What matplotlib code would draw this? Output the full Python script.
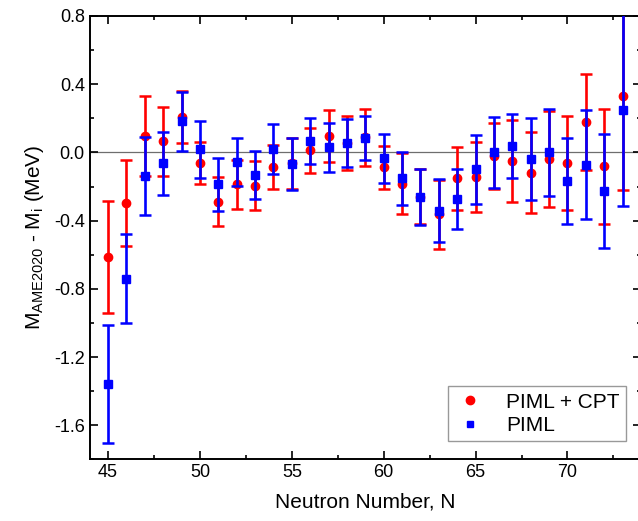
import matplotlib
matplotlib.use("Agg")
import matplotlib.pyplot as plt
from matplotlib.lines import Line2D
from matplotlib.ticker import MultipleLocator, FormatStrFormatter

plt.rcParams['font.family'] = ['Liberation Sans', 'DejaVu Sans']
plt.rcParams['mathtext.fontset'] = 'custom'
plt.rcParams['mathtext.rm'] = 'Liberation Sans'
plt.rcParams['mathtext.it'] = 'Liberation Sans:italic'

# neutron number
N = list(range(45, 74))

# PIML + CPT
cpt_val = [-0.614, -0.296, 0.096, 0.065, 0.209, -0.063, -0.288, -0.188, -0.196, -0.086,
           -0.065, 0.012, 0.096, 0.055, 0.088, -0.088, -0.183, -0.260, -0.362, -0.153,
           -0.143, -0.022, -0.051, -0.120, -0.037, -0.063, 0.178, -0.082, 0.333]
cpt_err = [0.330, 0.253, 0.233, 0.204, 0.153, 0.122, 0.145, 0.142, 0.144, 0.130,
           0.147, 0.133, 0.151, 0.160, 0.165, 0.128, 0.180, 0.160, 0.203, 0.184,
           0.204, 0.195, 0.240, 0.237, 0.282, 0.277, 0.280, 0.337, 0.555]

# PIML
piml_val = [-1.359, -0.741, -0.137, -0.063, 0.182, 0.019, -0.188, -0.055, -0.134, 0.018,
            -0.069, 0.066, 0.029, 0.053, 0.085, -0.035, -0.153, -0.261, -0.341, -0.275,
            -0.100, 0.000, 0.037, -0.041, 0.000, -0.169, -0.073, -0.224, 0.251]
piml_err = [0.345, 0.260, 0.230, 0.184, 0.175, 0.167, 0.153, 0.141, 0.142, 0.146,
            0.152, 0.135, 0.143, 0.141, 0.128, 0.145, 0.154, 0.165, 0.184, 0.176,
            0.200, 0.208, 0.187, 0.240, 0.254, 0.252, 0.320, 0.334, 0.565]

fig = plt.figure(figsize=(6.38, 5.21), dpi=100)
ax = fig.add_axes([0.1406, 0.1184, 0.864, 0.8509])

ax.axhline(0, color='#6e6e6e', lw=0.9, zorder=1)

ax.errorbar(N, cpt_val, yerr=cpt_err, fmt='o', color='red', ms=6,
            elinewidth=1.9, capsize=4.2, capthick=1.8, zorder=2)
ax.errorbar(N, piml_val, yerr=piml_err, fmt='s', color='blue', ms=5.4,
            elinewidth=1.9, capsize=4.2, capthick=1.8, zorder=3)

ax.set_xlim(44, 74)
ax.set_ylim(-1.8, 0.8)
ax.xaxis.set_major_locator(MultipleLocator(5))
ax.xaxis.set_minor_locator(MultipleLocator(2.5))
ax.yaxis.set_major_locator(MultipleLocator(0.4))
ax.yaxis.set_minor_locator(MultipleLocator(0.2))
ax.yaxis.set_major_formatter(FormatStrFormatter('%.1f'))
ax.tick_params(which='both', direction='in', top=True, right=True, width=1.2, labelsize=13)
ax.tick_params(which='major', length=6)
ax.tick_params(which='minor', length=3)
for s in ax.spines.values():
    s.set_linewidth(1.4)

ax.set_xlabel('Neutron Number, N', fontsize=15, labelpad=8)
ax.set_ylabel(r'M$_{\mathrm{AME2020}}$ - M$_{\mathrm{i}}$ (MeV)', fontsize=15, labelpad=6)

handles = [Line2D([], [], ls='none', marker='o', color='red', ms=6),
           Line2D([], [], ls='none', marker='s', color='blue', ms=5)]
leg = ax.legend(handles, ['PIML + CPT', 'PIML'], loc='lower right',
                bbox_to_anchor=(0.973, 0.041), borderaxespad=0, fontsize=15,
                frameon=True, fancybox=False, edgecolor='#808080', handlelength=1.5,
                handletextpad=1.0, borderpad=0.3, labelspacing=0.2)
leg.get_frame().set_linewidth(1.0)

fig.savefig('out.png', dpi=100)
